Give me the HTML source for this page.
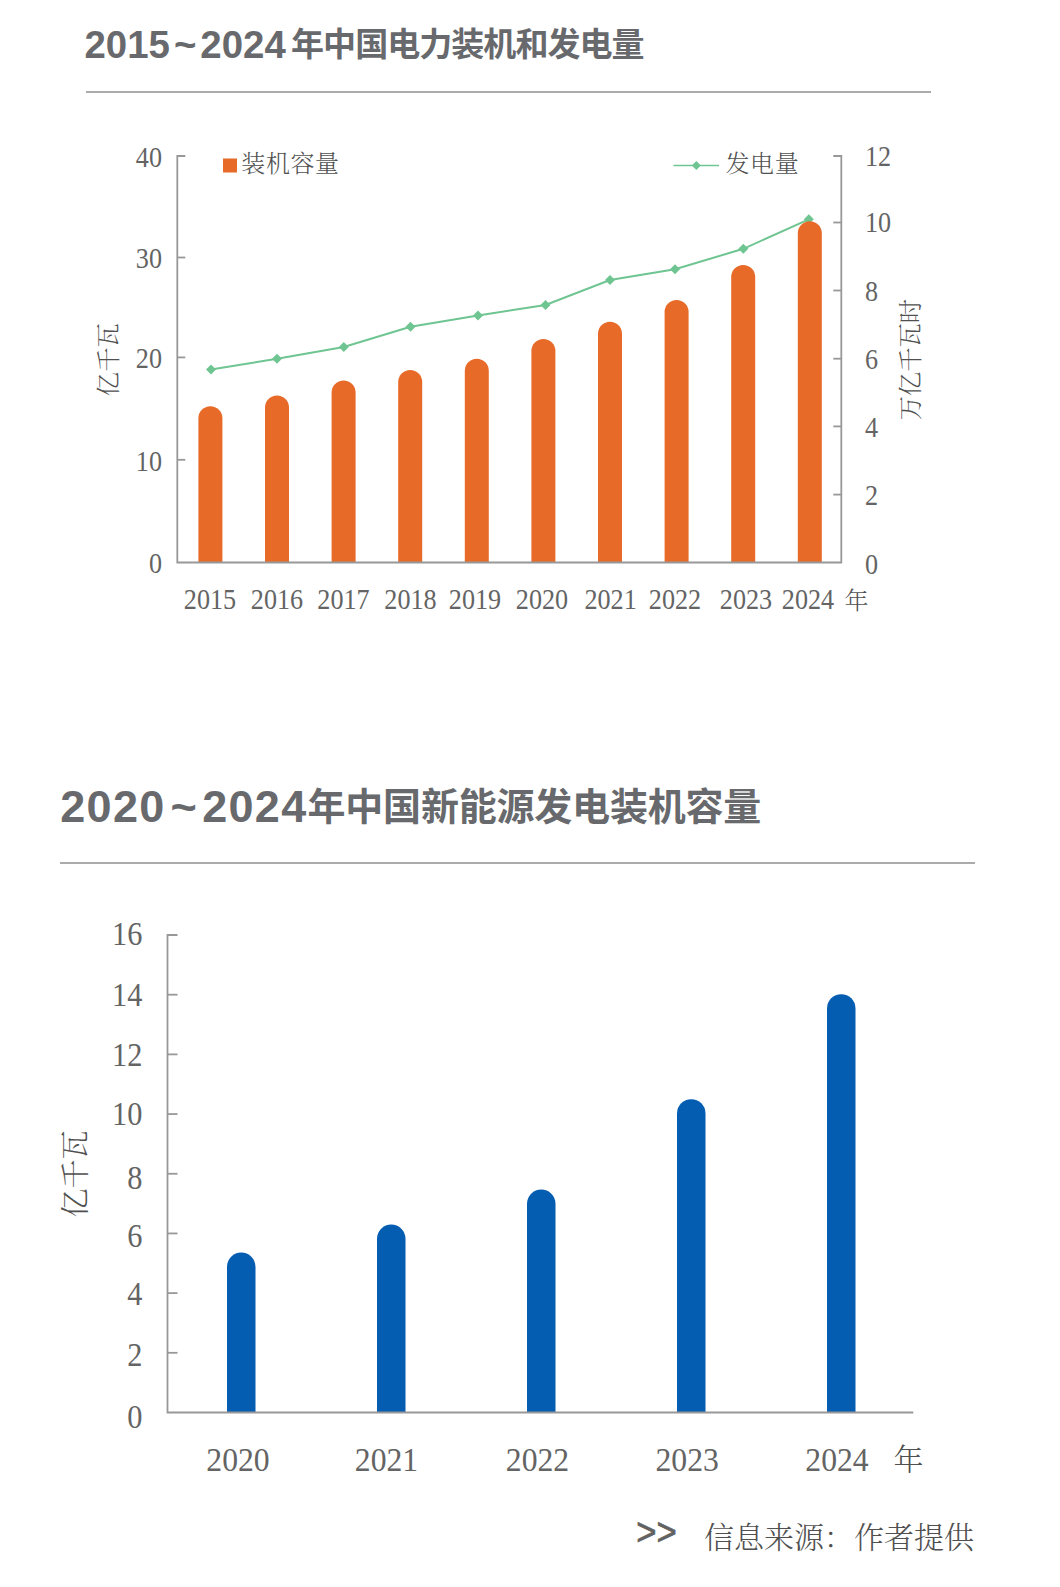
<!DOCTYPE html>
<html lang="zh-CN"><head><meta charset="utf-8"><title>中国电力装机和发电量</title>
<style>
html,body{margin:0;padding:0;background:#fff;}
body{width:1060px;height:1587px;position:relative;overflow:hidden;}
svg{position:absolute;left:0;top:0;display:block;}
.num{font-family:"Liberation Serif", "Noto Serif CJK SC", serif;font-weight:300;fill:#646464;}
.cjk{font-family:"Liberation Serif", "Noto Serif CJK SC", serif;font-weight:300;fill:#505050;}
.title{font-family:"Liberation Sans", "Noto Sans CJK SC", sans-serif;font-weight:700;fill:#68696d;}
.ax{stroke:#989898;stroke-width:1.8;fill:none;}
</style></head><body>
<svg width="1060" height="1587" viewBox="0 0 1060 1587">
<text class="title" x="84.5" y="57.6" font-size="38.4">2015<tspan dx="4">~</tspan><tspan dx="4">2024</tspan><tspan font-size="33" dx="5.3" dy="-1.2" letter-spacing="-0.95">年中国电力装机和发电量</tspan></text>
<rect x="86" y="91" width="845" height="2" fill="#ababab"/>
<polyline points="211,369.5 277,358.8 343.8,347 410.5,326.8 478,315.5 545.5,305 610,280 675,269.3 743.3,248.8 808.8,219.3" fill="none" stroke="#6FC591" stroke-width="2"/>
<path d="M211 364.5 l5 5 l-5 5 l-5 -5z" fill="#6FC591"/>
<path d="M277 353.8 l5 5 l-5 5 l-5 -5z" fill="#6FC591"/>
<path d="M343.8 342 l5 5 l-5 5 l-5 -5z" fill="#6FC591"/>
<path d="M410.5 321.8 l5 5 l-5 5 l-5 -5z" fill="#6FC591"/>
<path d="M478 310.5 l5 5 l-5 5 l-5 -5z" fill="#6FC591"/>
<path d="M545.5 300 l5 5 l-5 5 l-5 -5z" fill="#6FC591"/>
<path d="M610 275 l5 5 l-5 5 l-5 -5z" fill="#6FC591"/>
<path d="M675 264.3 l5 5 l-5 5 l-5 -5z" fill="#6FC591"/>
<path d="M743.3 243.8 l5 5 l-5 5 l-5 -5z" fill="#6FC591"/>
<path d="M808.8 214.3 l5 5 l-5 5 l-5 -5z" fill="#6FC591"/>
<path d="M198.4 562.5 V418.3 A12 12 0 0 1 222.4 418.3 V562.5 Z" fill="#E86A28"/>
<path d="M265 562.5 V407.5 A12 12 0 0 1 289 407.5 V562.5 Z" fill="#E86A28"/>
<path d="M331.6 562.5 V392.5 A12 12 0 0 1 355.6 392.5 V562.5 Z" fill="#E86A28"/>
<path d="M398.2 562.5 V382 A12 12 0 0 1 422.2 382 V562.5 Z" fill="#E86A28"/>
<path d="M464.8 562.5 V370.8 A12 12 0 0 1 488.8 370.8 V562.5 Z" fill="#E86A28"/>
<path d="M531.4 562.5 V351 A12 12 0 0 1 555.4 351 V562.5 Z" fill="#E86A28"/>
<path d="M598 562.5 V333.8 A12 12 0 0 1 622 333.8 V562.5 Z" fill="#E86A28"/>
<path d="M664.6 562.5 V312 A12 12 0 0 1 688.6 312 V562.5 Z" fill="#E86A28"/>
<path d="M731.2 562.5 V277 A12 12 0 0 1 755.2 277 V562.5 Z" fill="#E86A28"/>
<path d="M797.8 562.5 V233.3 A12 12 0 0 1 821.8 233.3 V562.5 Z" fill="#E86A28"/>
<path class="ax" d="M185.3 156 H177.3 V562.5 H841.3 V156 H833.3"/>
<path class="ax" d="M177.3 257.5 h8"/>
<path class="ax" d="M177.3 357.4 h8"/>
<path class="ax" d="M177.3 459.8 h8"/>
<path class="ax" d="M841.3 222.5 h-8"/>
<path class="ax" d="M841.3 290.5 h-8"/>
<path class="ax" d="M841.3 358.7 h-8"/>
<path class="ax" d="M841.3 426.4 h-8"/>
<path class="ax" d="M841.3 494.6 h-8"/>
<text class="num" font-size="28.75" text-anchor="end" transform="translate(162 166.5) scale(0.91 1)">40</text>
<text class="num" font-size="28.75" text-anchor="end" transform="translate(162 268.2) scale(0.91 1)">30</text>
<text class="num" font-size="28.75" text-anchor="end" transform="translate(162 367.5) scale(0.91 1)">20</text>
<text class="num" font-size="28.75" text-anchor="end" transform="translate(162 470.7) scale(0.91 1)">10</text>
<text class="num" font-size="28.75" text-anchor="end" transform="translate(162 573.2) scale(0.91 1)">0</text>
<text class="num" font-size="28.75" text-anchor="start" transform="translate(865 165.5) scale(0.91 1)">12</text>
<text class="num" font-size="28.75" text-anchor="start" transform="translate(865 231.8) scale(0.91 1)">10</text>
<text class="num" font-size="28.75" text-anchor="start" transform="translate(865 301.2) scale(0.91 1)">8</text>
<text class="num" font-size="28.75" text-anchor="start" transform="translate(865 369.3) scale(0.91 1)">6</text>
<text class="num" font-size="28.75" text-anchor="start" transform="translate(865 437.1) scale(0.91 1)">4</text>
<text class="num" font-size="28.75" text-anchor="start" transform="translate(865 504.8) scale(0.91 1)">2</text>
<text class="num" font-size="28.75" text-anchor="start" transform="translate(865 573.8) scale(0.91 1)">0</text>
<text class="num" font-size="28.75" text-anchor="middle" transform="translate(210 609.2) scale(0.91 1)">2015</text>
<text class="num" font-size="28.75" text-anchor="middle" transform="translate(277 609.2) scale(0.91 1)">2016</text>
<text class="num" font-size="28.75" text-anchor="middle" transform="translate(343.5 609.2) scale(0.91 1)">2017</text>
<text class="num" font-size="28.75" text-anchor="middle" transform="translate(410.5 609.2) scale(0.91 1)">2018</text>
<text class="num" font-size="28.75" text-anchor="middle" transform="translate(475 609.2) scale(0.91 1)">2019</text>
<text class="num" font-size="28.75" text-anchor="middle" transform="translate(542 609.2) scale(0.91 1)">2020</text>
<text class="num" font-size="28.75" text-anchor="middle" transform="translate(610.6 609.2) scale(0.91 1)">2021</text>
<text class="num" font-size="28.75" text-anchor="middle" transform="translate(675 609.2) scale(0.91 1)">2022</text>
<text class="num" font-size="28.75" text-anchor="middle" transform="translate(746 609.2) scale(0.91 1)">2023</text>
<text class="num" font-size="28.75" text-anchor="middle" transform="translate(808 609.2) scale(0.91 1)">2024</text>
<text class="cjk" x="856.5" y="609" font-size="24" text-anchor="middle">年</text>
<rect x="223" y="158.5" width="14" height="14" fill="#E86A28"/>
<text class="cjk" x="241.3" y="172" font-size="24" letter-spacing="0.6">装机容量</text>
<path d="M673.5 165.5 H719" stroke="#6FC591" stroke-width="1.7"/>
<path d="M696.3 161 l4.5 4.5 l-4.5 4.5 l-4.5 -4.5z" fill="#6FC591"/>
<text class="cjk" x="725.5" y="172" font-size="24" letter-spacing="0.6">发电量</text>
<text class="cjk" font-size="24.3" text-anchor="middle" transform="translate(117 359.7) rotate(-90)">亿千瓦</text>
<text class="cjk" font-size="24.3" text-anchor="middle" transform="translate(919 359.6) rotate(-90)">万亿千瓦时</text>
<text class="title" x="60.3" y="822.3" font-size="45" letter-spacing="1.3">2020<tspan dx="5">~</tspan><tspan dx="4">2024</tspan><tspan font-size="38" dx="0" dy="-2" letter-spacing="-0.2">年中国新能源发电装机容量</tspan></text>
<rect x="60" y="862" width="915" height="2" fill="#ababab"/>
<path d="M227 1412.5 V1266.75 A14.25 14.25 0 0 1 255.5 1266.75 V1412.5 Z" fill="#055DB2"/>
<path d="M377 1412.5 V1238.75 A14.25 14.25 0 0 1 405.5 1238.75 V1412.5 Z" fill="#055DB2"/>
<path d="M527 1412.5 V1203.75 A14.25 14.25 0 0 1 555.5 1203.75 V1412.5 Z" fill="#055DB2"/>
<path d="M677 1412.5 V1113.45 A14.25 14.25 0 0 1 705.5 1113.45 V1412.5 Z" fill="#055DB2"/>
<path d="M827 1412.5 V1008.45 A14.25 14.25 0 0 1 855.5 1008.45 V1412.5 Z" fill="#055DB2"/>
<path class="ax" d="M177.5 935 H167.5 V1412.5 H913.3"/>
<path class="ax" d="M167.5 994.688 h10"/>
<path class="ax" d="M167.5 1054.38 h10"/>
<path class="ax" d="M167.5 1114.06 h10"/>
<path class="ax" d="M167.5 1173.75 h10"/>
<path class="ax" d="M167.5 1233.44 h10"/>
<path class="ax" d="M167.5 1293.12 h10"/>
<path class="ax" d="M167.5 1352.81 h10"/>
<text class="num" font-size="33" text-anchor="end" transform="translate(142.3 945.4) scale(0.92 1)">16</text>
<text class="num" font-size="33" text-anchor="end" transform="translate(142.3 1005.9) scale(0.92 1)">14</text>
<text class="num" font-size="33" text-anchor="end" transform="translate(142.3 1065.6) scale(0.92 1)">12</text>
<text class="num" font-size="33" text-anchor="end" transform="translate(142.3 1124.5) scale(0.92 1)">10</text>
<text class="num" font-size="33" text-anchor="end" transform="translate(142.3 1188.8) scale(0.92 1)">8</text>
<text class="num" font-size="33" text-anchor="end" transform="translate(142.3 1247) scale(0.92 1)">6</text>
<text class="num" font-size="33" text-anchor="end" transform="translate(142.3 1304.8) scale(0.92 1)">4</text>
<text class="num" font-size="33" text-anchor="end" transform="translate(142.3 1365.5) scale(0.92 1)">2</text>
<text class="num" font-size="33" text-anchor="end" transform="translate(142.3 1427.7) scale(0.92 1)">0</text>
<text class="num" font-size="33" text-anchor="middle" transform="translate(238 1470.5) scale(0.96 1)">2020</text>
<text class="num" font-size="33" text-anchor="middle" transform="translate(386.5 1470.5) scale(0.96 1)">2021</text>
<text class="num" font-size="33" text-anchor="middle" transform="translate(537.5 1470.5) scale(0.96 1)">2022</text>
<text class="num" font-size="33" text-anchor="middle" transform="translate(687.2 1470.5) scale(0.96 1)">2023</text>
<text class="num" font-size="33" text-anchor="middle" transform="translate(837 1470.5) scale(0.96 1)">2024</text>
<text class="cjk" x="908.5" y="1470" font-size="30" text-anchor="middle">年</text>
<text class="cjk" font-size="29" text-anchor="middle" transform="translate(86 1174) rotate(-90)">亿千瓦</text>
<text font-family='"Liberation Sans", "Noto Sans CJK SC", sans-serif' font-size="38.5" fill="#626262" stroke="#626262" stroke-width="0.7" transform="translate(636.3 1545.2) scale(0.9 1)">&gt;&gt;</text>
<text class="cjk" x="704" y="1548" font-size="30">信息来源：作者提供</text>
</svg>
</body></html>
